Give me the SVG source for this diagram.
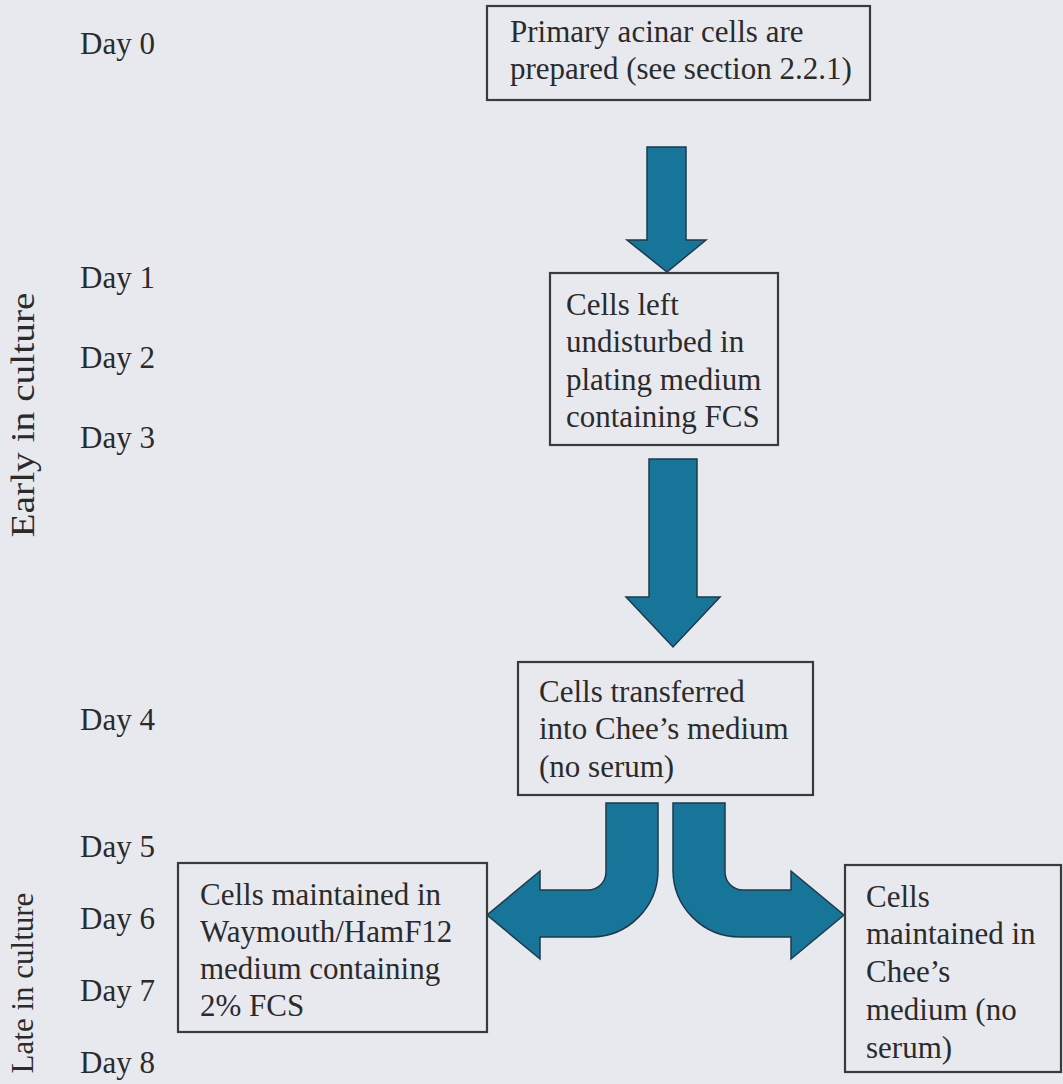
<svg xmlns="http://www.w3.org/2000/svg" width="1063" height="1084" viewBox="0 0 1063 1084">
<style>
.bg{fill:#e8e9ef}
.box{fill:none;stroke:#3a3a3a;stroke-width:2.2}
.t{font-family:"Liberation Serif","Times New Roman",serif;font-size:31px;fill:#2b2b2b}
.arr{fill:#18759a;stroke:#1e3a48;stroke-width:1.5;stroke-linejoin:miter}
</style>
<rect class="bg" x="0" y="0" width="1063" height="1084"/>
<g id="labels">
<text class="t" x="80" y="54">Day 0</text>
<text class="t" x="80" y="288">Day 1</text>
<text class="t" x="80" y="368">Day 2</text>
<text class="t" x="80" y="448">Day 3</text>
<text class="t" x="80" y="730">Day 4</text>
<text class="t" x="80" y="857">Day 5</text>
<text class="t" x="80" y="929">Day 6</text>
<text class="t" x="80" y="1001">Day 7</text>
<text class="t" x="80" y="1073">Day 8</text>
<text class="t" style="font-size:33px" text-anchor="middle" textLength="245" lengthAdjust="spacingAndGlyphs" transform="translate(34,415) rotate(-90)">Early in culture</text>
<text class="t" text-anchor="middle" transform="translate(33,983) rotate(-90)">Late in culture</text>
</g>
<g id="connectors">
<path class="arr" d="M647,147 L686,147 L686,240 L706,240 L667,272 L627,240 L647,240 Z"/>
<path class="arr" d="M649,459 L697,459 L697,597 L720,597 L673,647 L626,597 L649,597 Z"/>
<path class="arr" d="M606,803 L606,872 A18,18 0 0 1 588,890 L540,890 L540,871 L487,915 L540,959 L540,937 L591,937 A67,67 0 0 0 658,870 L658,803 Z"/>
<path class="arr" d="M725,803 L725,872 A18,18 0 0 0 743,890 L791,890 L791,871 L844,915 L791,959 L791,937 L740,937 A67,67 0 0 1 673,870 L673,803 Z"/>
</g>
<g id="node1">
<rect class="box" x="487" y="6" width="383" height="94"/>
<text class="t" x="510" y="42">Primary acinar cells are</text>
<text class="t" x="510" y="79">prepared (see section 2.2.1)</text>
</g>
<g id="node2">
<rect class="box" x="550" y="273" width="228" height="172"/>
<text class="t" x="566" y="315">Cells left</text>
<text class="t" x="566" y="352">undisturbed in</text>
<text class="t" x="566" y="390">plating medium</text>
<text class="t" x="566" y="427">containing FCS</text>
</g>
<g id="node3">
<rect class="box" x="518" y="662" width="295" height="133"/>
<text class="t" x="539" y="702">Cells transferred</text>
<text class="t" x="539" y="739">into Chee’s medium</text>
<text class="t" x="539" y="777">(no serum)</text>
</g>
<g id="node4">
<rect class="box" x="178" y="863" width="309" height="169"/>
<text class="t" x="200" y="905">Cells maintained in</text>
<text class="t" x="200" y="942">Waymouth/HamF12</text>
<text class="t" x="200" y="979">medium containing</text>
<text class="t" x="200" y="1016">2% FCS</text>
</g>
<g id="node5">
<rect class="box" x="845" y="865" width="216" height="207"/>
<text class="t" x="866" y="907">Cells</text>
<text class="t" x="866" y="944">maintained in</text>
<text class="t" x="866" y="982">Chee’s</text>
<text class="t" x="866" y="1020">medium (no</text>
<text class="t" x="866" y="1058">serum)</text>
</g>
</svg>
